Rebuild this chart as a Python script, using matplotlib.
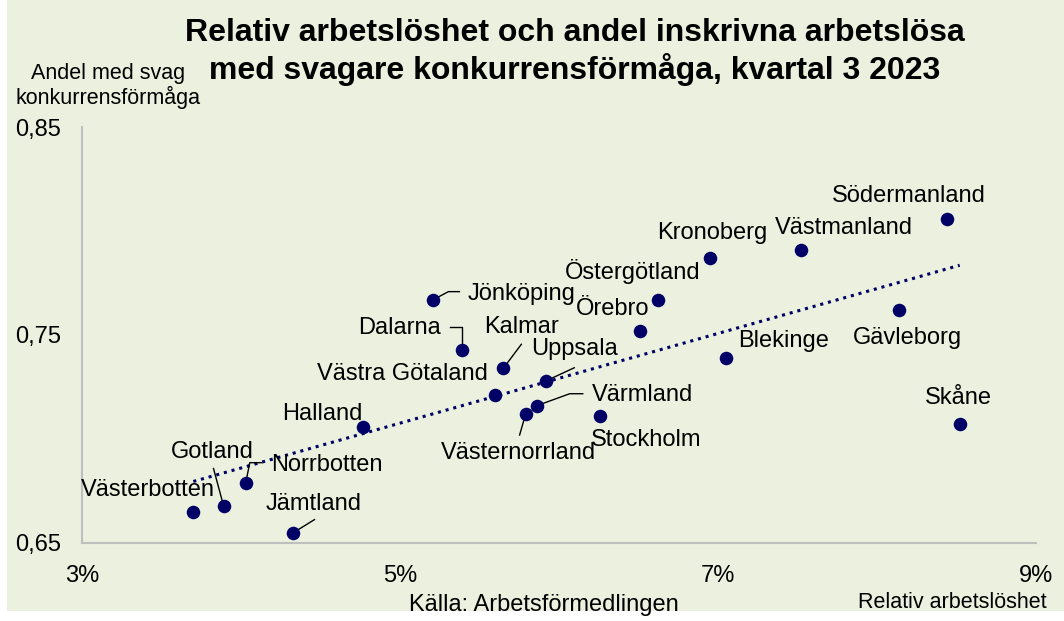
import matplotlib
matplotlib.use("Agg")
import matplotlib.pyplot as plt
from matplotlib.patches import Rectangle
import numpy as np

plt.rcParams['font.family'] = ['Liberation Sans', 'DejaVu Sans']

regions = ["Västerbotten", "Gotland", "Norrbotten", "Jämtland", "Halland",
           "Jönköping", "Dalarna", "Kalmar", "Västra Götaland", "Uppsala",
           "Värmland", "Västernorrland", "Stockholm", "Örebro", "Östergötland",
           "Kronoberg", "Blekinge", "Västmanland", "Södermanland", "Gävleborg",
           "Skåne"]
unemployment = [3.70, 3.89, 4.03, 4.33, 4.77,
                5.21, 5.39, 5.65, 5.60, 5.92,
                5.86, 5.79, 6.26, 6.51, 6.62,
                6.95, 7.05, 7.52, 8.44, 8.14,
                8.52]
weak_share = [0.665, 0.668, 0.679, 0.655, 0.706,
              0.767, 0.743, 0.734, 0.721, 0.728,
              0.716, 0.712, 0.711, 0.752, 0.767,
              0.787, 0.739, 0.791, 0.806, 0.762,
              0.707]
x_ticks = [3, 5, 7, 9]
x_ticklabels = ["3%", "5%", "7%", "9%"]
y_ticks = [0.65, 0.75, 0.85]
y_ticklabels = ["0,65", "0,75", "0,85"]

# label offsets (pixels) and optional leader-line vertices (pixels, relative to point)
label_style = {
    "Västerbotten": ((-45, 22), None),
    "Gotland": ((-11, 54), [(0, 0), (-10, 37)]),
    "Norrbotten": ((81, 18), [(0, 0), (4, 20), (16, 20)]),
    "Jämtland": ((20, 29), [(0, 0), (21, 13)]),
    "Halland": ((-41, 13), None),
    "Jönköping": ((88, 6), [(0, 0), (15, 8), (26, 8)]),
    "Dalarna": ((-63, 22), [(0, 3), (0, 23), (-12, 23)]),
    "Kalmar": ((18, 41), [(0, 0), (18, 24)]),
    "Västra Götaland": ((-93, 21), None),
    "Uppsala": ((28, 32), [(0, 0), (28, 13)]),
    "Värmland": ((106, 11), [(0, 0), (33, 12), (46, 12)]),
    "Västernorrland": ((-7, -39), [(0, 0), (-6, -21)]),
    "Stockholm": ((46, -24), None),
    "Örebro": ((-27, 22), None),
    "Östergötland": ((-25, 28), None),
    "Kronoberg": ((2, 25), None),
    "Blekinge": ((58, 17), None),
    "Västmanland": ((43, 22), None),
    "Södermanland": ((-38, 23), None),
    "Gävleborg": ((8, -28), None),
    "Skåne": ((-1, 26), None),
}

bg = '#EBF1DE'
navy = '#000066'

fig = plt.figure(figsize=(10.64, 6.21), dpi=100, facecolor='white')
fig.patches.append(Rectangle((7/1064, 10/621), 1, 1, transform=fig.transFigure,
                             facecolor=bg, edgecolor='none', zorder=-10))

ax = fig.add_axes([82/1064, 1-543/621, (1036-82)/1064, (543-127)/621])
ax.set_facecolor('none')
ax.set_xlim(3, 9)
ax.set_ylim(0.65, 0.85)

ax.scatter(unemployment, weak_share, s=95, color=navy, zorder=3, linewidths=0)

# linear trend line
coef = np.polyfit(unemployment, weak_share, 1)
xs = np.array([min(unemployment), max(unemployment)])
ax.plot(xs, np.polyval(coef, xs), color=navy, lw=2.2, linestyle=(0, (1, 1.6)), zorder=2)

for name, x, y in zip(regions, unemployment, weak_share):
    (dx, dy), leader = label_style[name]
    ax.annotate(name, (x, y), xytext=(dx, dy), textcoords='offset pixels',
                ha='center', va='center', fontsize=17, color='black', zorder=4)
    if leader:
        base = ax.transData.transform((x, y))
        pts = np.array([[base[0] + px, base[1] + py] for px, py in leader])
        data_pts = ax.transData.inverted().transform(pts)
        ax.plot(data_pts[:, 0], data_pts[:, 1], color='black', lw=1.0, zorder=2.5)

for s in ['top', 'right']:
    ax.spines[s].set_visible(False)
for s in ['left', 'bottom']:
    ax.spines[s].set_color('#BFBFBF')
    ax.spines[s].set_linewidth(1.5)

ax.set_xticks(x_ticks)
ax.set_xticklabels(x_ticklabels)
ax.set_yticks(y_ticks)
ax.set_yticklabels(y_ticklabels)
ax.tick_params(axis='both', length=0, labelsize=17, colors='black')
ax.tick_params(axis='x', pad=16)
ax.tick_params(axis='y', pad=15)

fig.text(575/1064, 1-33/621, "Relativ arbetslöshet och andel inskrivna arbetslösa",
         ha='center', va='center', fontsize=23, fontweight='bold')
fig.text(575/1064, 1-70/621, "med svagare konkurrensförmåga, kvartal 3 2023",
         ha='center', va='center', fontsize=23, fontweight='bold')
fig.text(108/1064, 1-86/621, "Andel med svag\nkonkurrensförmåga",
         ha='center', va='center', fontsize=15.5, linespacing=1.1)
fig.text(544/1064, 1-605/621, "Källa: Arbetsförmedlingen",
         ha='center', va='center', fontsize=17)
fig.text(952/1064, 1-603/621, "Relativ arbetslöshet",
         ha='center', va='center', fontsize=15.5)

fig.savefig("out.png", dpi=100, facecolor='white')
